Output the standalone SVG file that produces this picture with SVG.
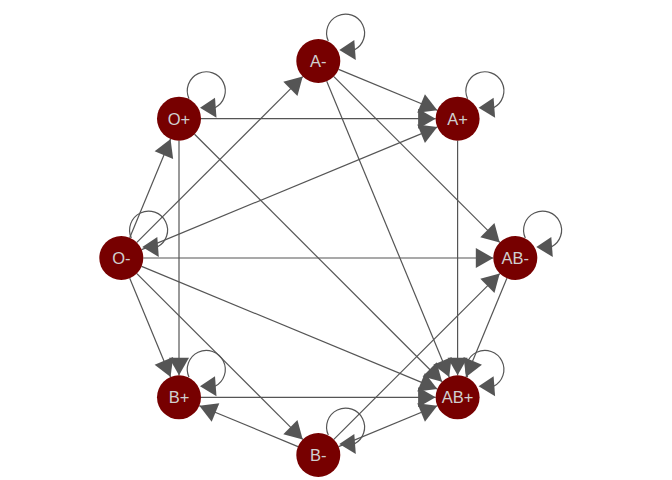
<svg xmlns="http://www.w3.org/2000/svg" xmlns:xlink="http://www.w3.org/1999/xlink" width="672" height="480" viewBox="0 0 672 480">
<style>
.e{stroke:#555555;stroke-width:1.2;fill:none;marker-end:url(#ah)}
.lp{stroke:#555555;stroke-width:1.2;fill:none}
.ah{fill:#555555}
.n circle{fill:#770000}
.n text{fill:#d0d0d0;font-family:"Liberation Sans",Arial,sans-serif;font-size:16.5px;text-anchor:middle;dominant-baseline:central}
</style>
<defs>
<marker id="ah" markerUnits="userSpaceOnUse" markerWidth="19" markerHeight="22" viewBox="0 -11 18 22" refX="17.5" refY="0" orient="auto">
<path d="M0,-10 L17.5,0 L0,10 Z" fill="#555555"/>
</marker>
<g id="loop">
<path class="lp" d="M10,-20 A19,19 0 1 1 36,-11"/>
<path class="ah" d="M21,-11 L36,-21 L37.5,-1 Z"/>
</g>
</defs>
<rect width="672" height="480" fill="#ffffff"/>
<g id="edges">
<line class="e" x1="129.72" y1="237.67" x2="170.58" y2="139.03"/>
<line class="e" x1="136.86" y1="242.44" x2="302.74" y2="76.56"/>
<line class="e" x1="141.63" y1="249.58" x2="437.27" y2="127.12"/>
<line class="e" x1="143.3" y1="258" x2="493.3" y2="258"/>
<line class="e" x1="141.63" y1="266.42" x2="437.27" y2="388.88"/>
<line class="e" x1="136.86" y1="273.56" x2="302.74" y2="439.44"/>
<line class="e" x1="129.72" y1="278.33" x2="170.58" y2="376.97"/>
<line class="e" x1="201" y1="118.7" x2="435.6" y2="118.7"/>
<line class="e" x1="179" y1="140.7" x2="179" y2="375.3"/>
<line class="e" x1="194.56" y1="134.26" x2="442.04" y2="381.74"/>
<line class="e" x1="338.63" y1="69.42" x2="437.27" y2="110.28"/>
<line class="e" x1="333.86" y1="76.56" x2="499.74" y2="242.44"/>
<line class="e" x1="326.72" y1="81.33" x2="449.18" y2="376.97"/>
<line class="e" x1="457.6" y1="140.7" x2="457.6" y2="375.3"/>
<line class="e" x1="297.97" y1="446.58" x2="199.33" y2="405.72"/>
<line class="e" x1="333.86" y1="439.44" x2="499.74" y2="273.56"/>
<line class="e" x1="338.63" y1="446.58" x2="437.27" y2="405.72"/>
<line class="e" x1="201" y1="397.3" x2="435.6" y2="397.3"/>
<line class="e" x1="506.88" y1="278.33" x2="466.02" y2="376.97"/>
<use xlink:href="#loop" x="318.3" y="61"/>
<use xlink:href="#loop" x="457.6" y="118.7"/>
<use xlink:href="#loop" x="515.3" y="258"/>
<use xlink:href="#loop" x="457.6" y="397.3"/>
<use xlink:href="#loop" x="318.3" y="455"/>
<use xlink:href="#loop" x="179" y="397.3"/>
<use xlink:href="#loop" x="121.3" y="258"/>
<use xlink:href="#loop" x="179" y="118.7"/>
</g>
<g id="node-Aneg" class="n"><circle cx="318.3" cy="61" r="22"/><text x="318.3" y="61">A-</text></g>
<g id="node-Apos" class="n"><circle cx="457.6" cy="118.7" r="22"/><text x="457.6" y="118.7">A+</text></g>
<g id="node-ABneg" class="n"><circle cx="515.3" cy="258" r="22"/><text x="515.3" y="258">AB-</text></g>
<g id="node-ABpos" class="n"><circle cx="457.6" cy="397.3" r="22"/><text x="457.6" y="397.3">AB+</text></g>
<g id="node-Bneg" class="n"><circle cx="318.3" cy="455" r="22"/><text x="318.3" y="455">B-</text></g>
<g id="node-Bpos" class="n"><circle cx="179" cy="397.3" r="22"/><text x="179" y="397.3">B+</text></g>
<g id="node-Oneg" class="n"><circle cx="121.3" cy="258" r="22"/><text x="121.3" y="258">O-</text></g>
<g id="node-Opos" class="n"><circle cx="179" cy="118.7" r="22"/><text x="179" y="118.7">O+</text></g>
</svg>
